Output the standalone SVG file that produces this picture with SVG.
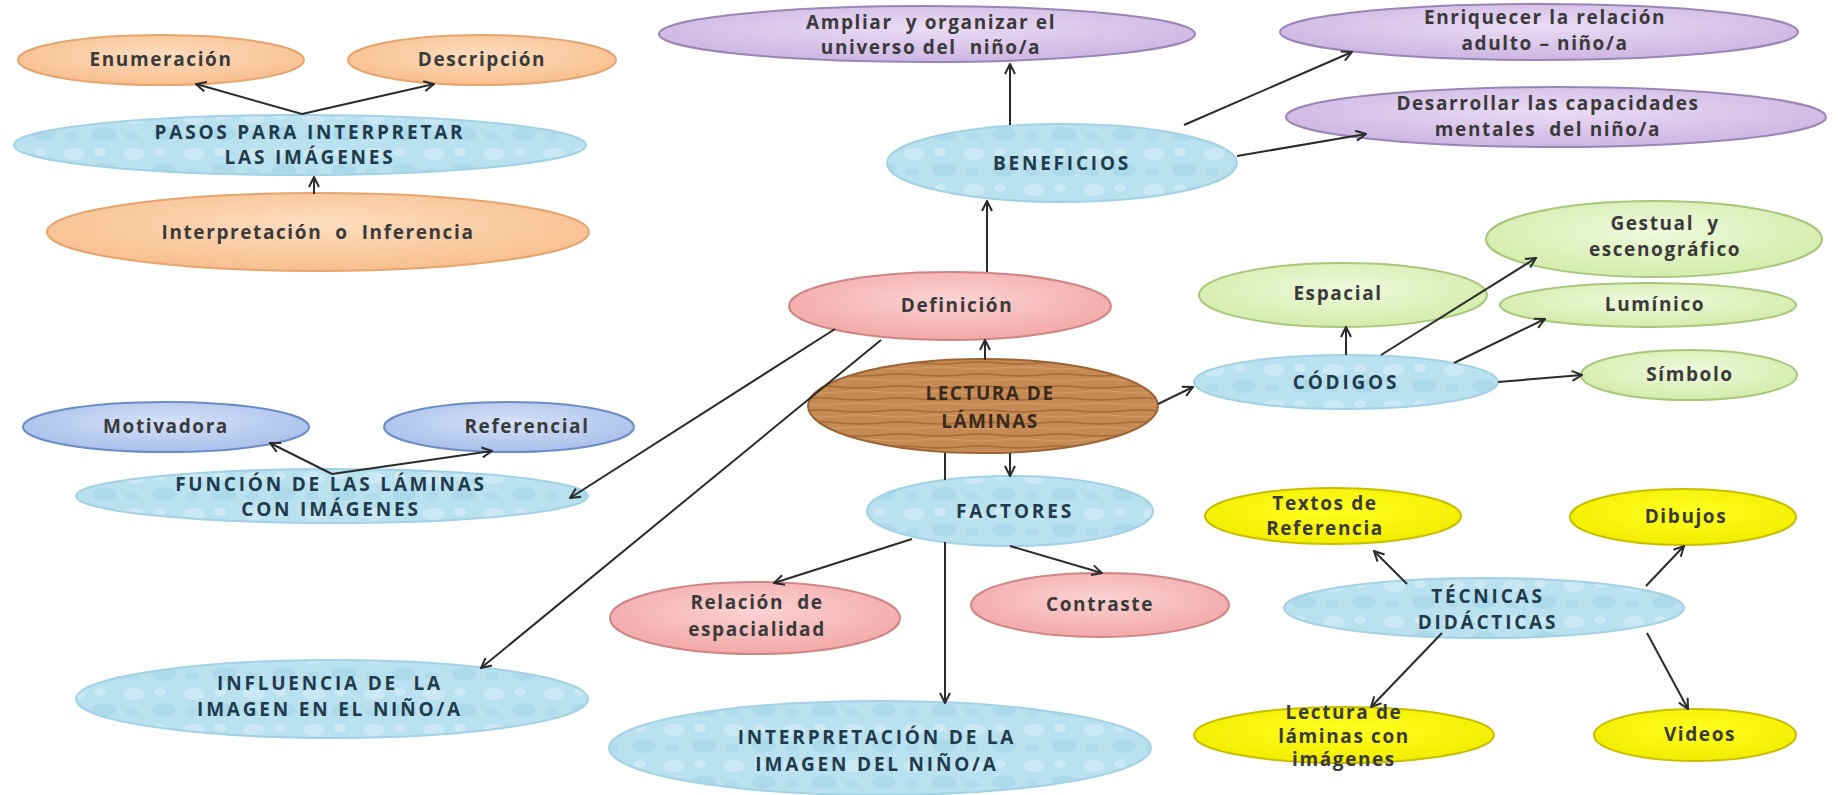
<svg xmlns="http://www.w3.org/2000/svg" width="1838" height="795" viewBox="0 0 1838 795">
<defs>
<radialGradient id="gOrange" cx="50%" cy="40%" r="60%"><stop offset="0" stop-color="#FCDDBF"/><stop offset="1" stop-color="#F8BF8E"/></radialGradient>
<radialGradient id="gPurple" cx="50%" cy="40%" r="60%"><stop offset="0" stop-color="#EADCF4"/><stop offset="1" stop-color="#CDB5E2"/></radialGradient>
<radialGradient id="gPink" cx="50%" cy="40%" r="60%"><stop offset="0" stop-color="#FBD3D3"/><stop offset="1" stop-color="#F3A8A8"/></radialGradient>
<radialGradient id="gGreen" cx="50%" cy="40%" r="60%"><stop offset="0" stop-color="#EFF9DD"/><stop offset="1" stop-color="#D3ECAA"/></radialGradient>
<radialGradient id="gBlue" cx="50%" cy="40%" r="60%"><stop offset="0" stop-color="#D6E2F8"/><stop offset="1" stop-color="#A9C0EA"/></radialGradient>
<radialGradient id="gYellow" cx="50%" cy="40%" r="60%"><stop offset="0" stop-color="#FFFF20"/><stop offset="1" stop-color="#F2EC00"/></radialGradient>
<pattern id="pDrops" width="60" height="36" patternUnits="userSpaceOnUse">
<rect width="60" height="36" fill="#B9E1EF"/>
<ellipse cx="14" cy="10" rx="11" ry="6" fill="#DDF2F9" opacity="0.5"/>
<ellipse cx="44" cy="26" rx="12" ry="7" fill="#97CDE1" opacity="0.35"/>
<ellipse cx="40" cy="8" rx="6" ry="4" fill="#E3F5FB" opacity="0.45"/>
<ellipse cx="12" cy="28" rx="7" ry="4" fill="#9ED0E3" opacity="0.35"/>
</pattern>
<pattern id="pWood" width="80" height="12" patternUnits="userSpaceOnUse">
<rect width="80" height="12" fill="#C68B55"/>
<path d="M0 3 Q20 1 40 3 T80 3" stroke="#A86A36" stroke-width="1.5" fill="none"/>
<path d="M0 8 Q20 10 40 8 T80 8" stroke="#D69D67" stroke-width="1.2" fill="none"/>
</pattern>
<marker id="arr" viewBox="0 0 12 12" refX="11" refY="6" markerWidth="12" markerHeight="12" markerUnits="userSpaceOnUse" orient="auto">
<path d="M1 1 L11 6 L1 11" fill="none" stroke="#2B2B2B" stroke-width="2"/>
</marker>
<style>
text{font-family:"Open Sans","Liberation Sans",sans-serif;font-weight:700;font-size:19px;text-anchor:middle;fill:#3A3A3A;letter-spacing:1.6px}
.c{fill:#213B4C;font-size:19px;letter-spacing:2.8px}
.or{fill:url(#gOrange);stroke:#E7A56E;stroke-width:2}
.pu{fill:url(#gPurple);stroke:#9A86B6;stroke-width:2}
.pk{fill:url(#gPink);stroke:#D08585;stroke-width:2}
.gr{fill:url(#gGreen);stroke:#A9C77A;stroke-width:2}
.bl{fill:url(#gBlue);stroke:#6C8CC6;stroke-width:2}
.ye{fill:url(#gYellow);stroke:#C8BE00;stroke-width:2}
.wa{fill:url(#pDrops);stroke:#A3D2E4;stroke-width:2}
.wd{fill:url(#pWood);stroke:#9C6434;stroke-width:2}
.ln{stroke:#2B2B2B;stroke-width:2;fill:none;marker-end:url(#arr)}
.pl{stroke:#2B2B2B;stroke-width:2;fill:none}
</style>
</defs>
<rect width="1838" height="795" fill="#FFFFFF"/>

<g id="n-enumeracion"><ellipse class="or" cx="161" cy="60" rx="143" ry="25"/><text x="161" y="66">Enumeración</text></g>
<g id="n-descripcion"><ellipse class="or" cx="482" cy="60" rx="134" ry="25"/><text x="482" y="66">Descripción</text></g>
<g id="n-pasos"><ellipse class="wa" cx="300" cy="145" rx="286" ry="30"/><text class="c" x="310" y="139">PASOS PARA INTERPRETAR</text><text class="c" x="310" y="164">LAS IMÁGENES</text></g>
<g id="n-inferencia"><ellipse class="or" cx="318" cy="232" rx="271" ry="39"/><text x="318" y="239" xml:space="preserve">Interpretación  o  Inferencia</text></g>

<g id="n-ampliar"><ellipse class="pu" cx="927" cy="34" rx="268" ry="28"/><text x="931" y="29" xml:space="preserve">Ampliar  y organizar el</text><text x="931" y="54" xml:space="preserve">universo del  niño/a</text></g>
<g id="n-beneficios"><ellipse class="wa" cx="1062" cy="163" rx="175" ry="39"/><text class="c" x="1062" y="170">BENEFICIOS</text></g>
<g id="n-enriquecer"><ellipse class="pu" cx="1539" cy="32" rx="259" ry="28"/><text x="1545" y="24">Enriquecer la relación</text><text x="1545" y="50">adulto – niño/a</text></g>
<g id="n-desarrollar"><ellipse class="pu" cx="1556" cy="117" rx="270" ry="30"/><text x="1548" y="110">Desarrollar las capacidades</text><text x="1548" y="136" xml:space="preserve">mentales  del niño/a</text></g>

<g id="n-definicion"><ellipse class="pk" cx="950" cy="306" rx="161" ry="34"/><text x="957" y="312">Definición</text></g>
<g id="n-lectura"><ellipse class="wd" cx="983" cy="406" rx="175" ry="47"/><text x="990" y="400" style="fill:#3A2A1E;letter-spacing:1.5px">LECTURA DE</text><text x="990" y="428" style="fill:#3A2A1E;letter-spacing:1.5px">LÁMINAS</text></g>

<g id="n-codigos"><ellipse class="wa" cx="1346" cy="382" rx="152" ry="27"/><text class="c" x="1346" y="389">CÓDIGOS</text></g>
<g id="n-gestual"><ellipse class="gr" cx="1654" cy="239" rx="168" ry="38"/><text x="1665" y="230" xml:space="preserve">Gestual  y</text><text x="1665" y="256">escenográfico</text></g>
<g id="n-espacial"><ellipse class="gr" cx="1343" cy="295" rx="144" ry="32"/><text x="1338" y="300">Espacial</text></g>
<g id="n-luminico"><ellipse class="gr" cx="1648" cy="305" rx="148" ry="22"/><text x="1655" y="311">Lumínico</text></g>
<g id="n-simbolo"><ellipse class="gr" cx="1689" cy="375" rx="108" ry="25"/><text x="1690" y="381">Símbolo</text></g>

<g id="n-motivadora"><ellipse class="bl" cx="166" cy="427" rx="143" ry="25"/><text x="166" y="433">Motivadora</text></g>
<g id="n-referencial"><ellipse class="bl" cx="509" cy="427" rx="125" ry="25"/><text x="527" y="433">Referencial</text></g>
<g id="n-funcion"><ellipse class="wa" cx="332" cy="496" rx="256" ry="27"/><text class="c" x="331" y="491">FUNCIÓN DE LAS LÁMINAS</text><text class="c" x="331" y="516">CON IMÁGENES</text></g>

<g id="n-factores"><ellipse class="wa" cx="1010" cy="511" rx="143" ry="35"/><text class="c" x="1015" y="518">FACTORES</text></g>
<g id="n-relacion"><ellipse class="pk" cx="755" cy="618" rx="145" ry="36"/><text x="757" y="609" xml:space="preserve">Relación  de</text><text x="757" y="636">espacialidad</text></g>
<g id="n-contraste"><ellipse class="pk" cx="1100" cy="605" rx="129" ry="32"/><text x="1100" y="611">Contraste</text></g>

<g id="n-influencia"><ellipse class="wa" cx="332" cy="699" rx="256" ry="39"/><text class="c" x="330" y="690" xml:space="preserve">INFLUENCIA DE  LA</text><text class="c" x="330" y="716">IMAGEN EN EL NIÑO/A</text></g>
<g id="n-interpretacion"><ellipse class="wa" cx="880" cy="748" rx="271" ry="47"/><text class="c" x="877" y="744">INTERPRETACIÓN DE LA</text><text class="c" x="877" y="771">IMAGEN DEL NIÑO/A</text></g>

<g id="n-textos"><ellipse class="ye" cx="1333" cy="516" rx="128" ry="28"/><text x="1325" y="510">Textos de</text><text x="1325" y="535">Referencia</text></g>
<g id="n-dibujos"><ellipse class="ye" cx="1683" cy="517" rx="113" ry="28"/><text x="1686" y="523">Dibujos</text></g>
<g id="n-tecnicas"><ellipse class="wa" cx="1484" cy="608" rx="200" ry="30"/><text class="c" x="1488" y="603">TÉCNICAS</text><text class="c" x="1488" y="629">DIDÁCTICAS</text></g>
<g id="n-lectura-laminas"><ellipse class="ye" cx="1344" cy="735" rx="150" ry="28"/><text x="1344" y="719">Lectura de</text><text x="1344" y="743">láminas con</text><text x="1344" y="766">imágenes</text></g>
<g id="n-videos"><ellipse class="ye" cx="1695" cy="735" rx="101" ry="26"/><text x="1700" y="741">Videos</text></g>

<g id="connectors">
<line class="pl" x1="945" y1="453" x2="945" y2="480"/>
<line class="ln" x1="945" y1="542" x2="945" y2="703"/>
<line class="ln" x1="302" y1="114" x2="196" y2="84"/>
<line class="ln" x1="302" y1="114" x2="434" y2="84"/>
<line class="ln" x1="314" y1="194" x2="314" y2="177"/>
<line class="ln" x1="1010" y1="125" x2="1010" y2="64"/>
<line class="ln" x1="987" y1="272" x2="987" y2="201"/>
<line class="ln" x1="1184" y1="125" x2="1352" y2="52"/>
<line class="ln" x1="1237" y1="156" x2="1366" y2="134"/>
<line class="ln" x1="985" y1="360" x2="985" y2="340"/>
<line class="ln" x1="1158" y1="404" x2="1193" y2="387"/>
<line class="ln" x1="1010" y1="453" x2="1010" y2="476"/>
<line class="ln" x1="835" y1="329" x2="570" y2="498"/>
<line class="ln" x1="881" y1="340" x2="481" y2="668"/>
<line class="ln" x1="332" y1="474" x2="270" y2="443"/>
<line class="ln" x1="332" y1="474" x2="492" y2="451"/>
<line class="ln" x1="912" y1="539" x2="774" y2="583"/>
<line class="ln" x1="1010" y1="546" x2="1102" y2="573"/>
<line class="ln" x1="1346" y1="355" x2="1346" y2="327" stroke-width="3"/>
<line class="ln" x1="1381" y1="355" x2="1536" y2="258"/>
<line class="ln" x1="1454" y1="363" x2="1545" y2="319"/>
<line class="ln" x1="1498" y1="382" x2="1582" y2="375"/>
<line class="ln" x1="1407" y1="584" x2="1374" y2="551"/>
<line class="ln" x1="1646" y1="586" x2="1684" y2="546"/>
<line class="ln" x1="1442" y1="633" x2="1371" y2="707"/>
<line class="ln" x1="1647" y1="633" x2="1688" y2="709"/>
</g>
</svg>
